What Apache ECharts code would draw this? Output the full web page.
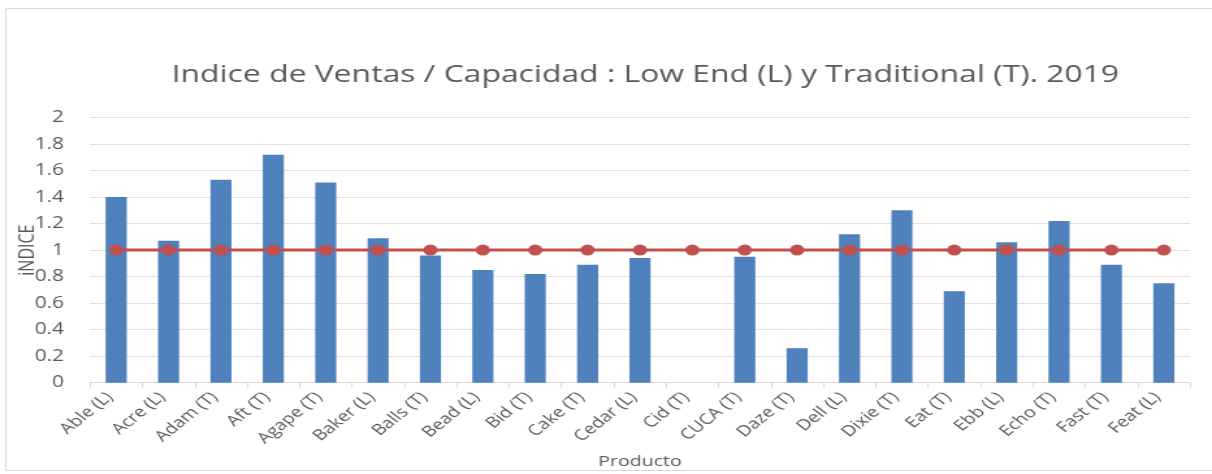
<!DOCTYPE html>
<html>
<head>
<meta charset="utf-8">
<script src="https://cdn.jsdelivr.net/npm/echarts@6/dist/echarts.min.js"></script>
<style>
  html, body { margin: 0; padding: 0; background: #ffffff; overflow: hidden; }
  /* chart is laid out narrow and widened horizontally, giving the stretched look */
  #chart { width: 932px; height: 474px; transform: scaleX(1.3004); transform-origin: 0 0; }
</style>
</head>
<body>
<div id="chart"></div>
<script>
// Products (segment in parentheses: L = Low End, T = Traditional)
const productos = [
  'Able (L)', 'Acre (L)', 'Adam (T)', 'Aft (T)', 'Agape (T)', 'Baker (L)',
  'Balls (T)', 'Bead (L)', 'Bid (T)', 'Cake (T)', 'Cedar (L)', 'Cid (T)',
  'CUCA (T)', 'Daze (T)', 'Dell (L)', 'Dixie (T)', 'Eat (T)', 'Ebb (L)',
  'Echo (T)', 'Fast (T)', 'Feat (L)'
];
// Sales / capacity index per product
const indice = [
  1.40, 1.07, 1.53, 1.72, 1.51, 1.09,
  0.96, 0.85, 0.82, 0.89, 0.94, 0,
  0.95, 0.26, 1.12, 1.30, 0.69, 1.06,
  1.22, 0.89, 0.75
];
// Reference level (index = 1)
const referencia = [
  1, 1, 1, 1, 1, 1, 1, 1, 1, 1, 1, 1, 1, 1, 1, 1, 1, 1, 1, 1, 1
];
const yTicks = { min: 0, max: 2, interval: 0.2 };

const FONT = 'Open Sans';
const TXT = '#595959';

const chart = echarts.init(document.getElementById('chart'), null, { renderer: 'canvas' });
chart.setOption({
  animation: false,
  backgroundColor: '#ffffff',
  textStyle: { fontFamily: FONT },
  title: {
    text: 'Indice de Ventas / Capacidad : Low End (L) y Traditional (T). 2019',
    left: 127,
    top: 58,
    textStyle: { fontFamily: FONT, fontSize: 24.5, fontWeight: 'normal', color: TXT }
  },
  graphic: [{
    type: 'rect',
    shape: { x: 4.5, y: 8.5, width: 940, height: 462 },
    style: { fill: 'none', stroke: '#d9d9d9', lineWidth: 1 },
    silent: true
  }],
  grid: {
    left: 69.2, right: 16.9, top: 117.5, bottom: 91.3,
    containLabel: false, outerBoundsMode: 'none'
  },
  xAxis: {
    type: 'category',
    data: productos,
    name: 'Producto',
    nameLocation: 'middle',
    nameGap: 72,
    nameMoveOverlap: false,
    nameTextStyle: { fontFamily: FONT, fontSize: 15, color: TXT },
    axisLine: { lineStyle: { color: '#d9d9d9', width: 1 } },
    axisTick: { show: true, length: 5, lineStyle: { color: '#d9d9d9' } },
    axisLabel: {
      rotate: 46, margin: 7, padding: [0, 7, 0, 0],
      fontFamily: FONT, fontSize: 15, color: TXT, interval: 0
    }
  },
  yAxis: {
    type: 'value',
    min: yTicks.min,
    max: yTicks.max,
    interval: yTicks.interval,
    name: 'iNDICE',
    nameLocation: 'middle',
    nameGap: 40,
    nameMoveOverlap: false,
    nameTextStyle: { fontFamily: FONT, fontSize: 16, color: TXT },
    axisLine: { show: false },
    axisTick: { show: false },
    axisLabel: { margin: 20, fontFamily: FONT, fontSize: 16, color: TXT },
    splitLine: { lineStyle: { color: '#e1e1e1', width: 1 } }
  },
  series: [
    {
      name: 'Indice',
      type: 'bar',
      data: indice,
      barWidth: 16.2,
      itemStyle: { color: '#4f81bd' }
    },
    {
      name: 'Referencia',
      type: 'line',
      data: referencia,
      symbol: 'circle',
      symbolSize: 11,
      lineStyle: { color: '#c0504d', width: 3 },
      itemStyle: { color: '#c0504d' },
      z: 3
    }
  ]
});
</script>
</body>
</html>
